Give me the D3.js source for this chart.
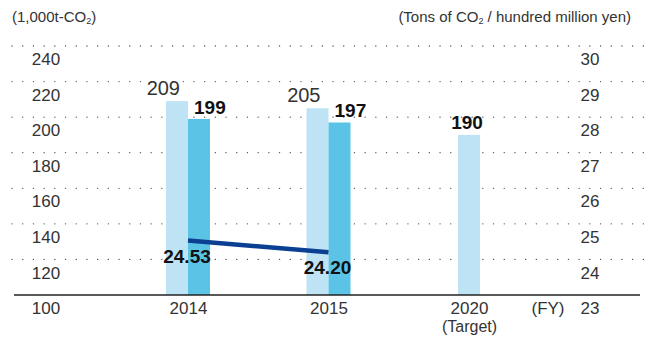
<!DOCTYPE html>
<html>
<head>
<meta charset="utf-8">
<script src="https://cdn.jsdelivr.net/npm/d3@7"></script>
<style>
  body { margin: 0; background: #fff; }
  svg { display: block; font-family: "Liberation Sans", Arial, Helvetica, sans-serif; }
</style>
</head>
<body>
<div id="chart"></div>
<script>
// data
const years = ["2014", "2015", "2020"];
const yearNotes = ["", "", "(Target)"];
const prevValues = [209, 205, 190];     // light bars (1,000t-CO2)
const currValues = [199, 197, null];    // dark bars
const intensity = [24.53, 24.20, null]; // line, right axis
const leftTicks = [100, 120, 140, 160, 180, 200, 220, 240];
const rightTicks = [23, 24, 25, 26, 27, 28, 29, 30];

const width = 646, height = 338;

const svg = d3.select("#chart")
    .append("svg")
    .attr("width", width)
    .attr("height", height);

// scales
const x = d3.scalePoint()
    .domain(years)
    .range([188, 469]);

const y = d3.scaleLinear()
    .domain([100, 240])
    .range([295, 46]);

const y2 = d3.scaleLinear()
    .domain([23, 30])
    .range([295, 46]);

const barW = 22;

// dotted grid lines
svg.append("g")
    .selectAll("line")
    .data(leftTicks.filter(d => d > 100))
    .enter()
    .append("line")
    .attr("x1", 12)
    .attr("x2", width)
    .attr("y1", d => y(d))
    .attr("y2", d => y(d))
    .attr("stroke", "#555")
    .attr("stroke-width", 1.3)
    .attr("stroke-linecap", "round")
    .attr("stroke-dasharray", "0.1,10.6");

// bars
const bars = svg.append("g");
years.forEach(function (yr, i) {
    const cx = x(yr);
    const hasCurr = currValues[i] != null;
    const lightX = hasCurr ? cx - barW : cx - barW / 2;
    bars.append("rect")
        .attr("x", lightX)
        .attr("y", y(prevValues[i]))
        .attr("width", barW)
        .attr("height", y(100) - y(prevValues[i]))
        .attr("fill", "#bde3f4");
    if (hasCurr) {
        bars.append("rect")
            .attr("x", cx)
            .attr("y", y(currValues[i]))
            .attr("width", barW)
            .attr("height", y(100) - y(currValues[i]))
            .attr("fill", "#5bc4e6");
    }
});

// bar labels
years.forEach(function (yr, i) {
    const cx = x(yr);
    const hasCurr = currValues[i] != null;
    svg.append("text")
        .attr("x", hasCurr ? cx - 8 : cx - 2)
        .attr("y", y(prevValues[i]) - 6)
        .attr("text-anchor", hasCurr ? "end" : "middle")
        .style("font-size", hasCurr ? "20px" : "19px")
        .style("font-weight", hasCurr ? "normal" : "bold")
        .attr("fill", hasCurr ? "#333" : "#111")
        .text(prevValues[i]);
    if (hasCurr) {
        svg.append("text")
            .attr("x", cx + 6)
            .attr("y", y(currValues[i]) - 5)
            .attr("text-anchor", "start")
            .style("font-size", "19px")
            .style("font-weight", "bold")
            .attr("fill", "#111")
            .text(currValues[i]);
    }
});

// baseline
svg.append("line")
    .attr("x1", 14)
    .attr("x2", 640)
    .attr("y1", y(100))
    .attr("y2", y(100))
    .attr("stroke", "#222")
    .attr("stroke-width", 1.5);

// intensity line
const linePts = years.map((yr, i) => ({yr: yr, v: intensity[i]})).filter(d => d.v != null);
svg.append("path")
    .datum(linePts)
    .attr("fill", "none")
    .attr("stroke", "#0b3f92")
    .attr("stroke-width", 4.5)
    .attr("d", d3.line()
        .x(d => x(d.yr))
        .y(d => y2(d.v)));

svg.append("g")
    .selectAll("text")
    .data(linePts)
    .enter()
    .append("text")
    .attr("x", d => x(d.yr) - 1)
    .attr("y", d => y2(d.v) + 22)
    .attr("text-anchor", "middle")
    .style("font-size", "19px")
    .style("font-weight", "bold")
    .attr("fill", "#111")
    .text(d => d.v.toFixed(2));

// left axis
const leftAxis = svg.append("g")
    .attr("transform", "translate(46,0)")
    .call(d3.axisLeft(y).tickValues(leftTicks).tickSize(0).tickPadding(0));
leftAxis.select(".domain").remove();
leftAxis.selectAll("text")
    .attr("text-anchor", "middle")
    .attr("dy", "1.1em")
    .style("font-size", "17px")
    .style("font-family", "'Liberation Sans', Arial, sans-serif")
    .attr("fill", "#333");

// right axis
const rightAxis = svg.append("g")
    .attr("transform", "translate(590,0)")
    .call(d3.axisRight(y2).tickValues(rightTicks).tickFormat(d3.format("d")).tickSize(0).tickPadding(0));
rightAxis.select(".domain").remove();
rightAxis.selectAll("text")
    .attr("text-anchor", "middle")
    .attr("dy", "1.1em")
    .style("font-size", "17px")
    .style("font-family", "'Liberation Sans', Arial, sans-serif")
    .attr("fill", "#333");

// x axis labels
const xAxis = svg.append("g")
    .attr("transform", "translate(0," + y(100) + ")")
    .call(d3.axisBottom(x).tickSize(0).tickPadding(0));
xAxis.select(".domain").remove();
xAxis.selectAll("text").remove();
xAxis.selectAll(".tick")
    .append("text")
    .attr("text-anchor", "middle")
    .attr("y", 19)
    .style("font-size", "17px")
    .attr("fill", "#333")
    .text(d => d);
xAxis.selectAll(".tick")
    .append("text")
    .attr("text-anchor", "middle")
    .attr("y", 37)
    .style("font-size", "16px")
    .attr("fill", "#333")
    .text((d, i) => yearNotes[i]);

svg.append("text")
    .attr("x", 548)
    .attr("y", y(100) + 19)
    .attr("text-anchor", "middle")
    .style("font-size", "17px")
    .attr("fill", "#333")
    .text("(FY)");

// axis titles
const t1 = svg.append("text")
    .attr("x", 12)
    .attr("y", 22)
    .style("font-size", "15px")
    .attr("fill", "#333");
t1.append("tspan").text("(1,000t-CO");
t1.append("tspan").style("font-size", "9px").attr("dy", 2).text("2");
t1.append("tspan").attr("dy", -2).text(")");

const t2 = svg.append("text")
    .attr("x", 631)
    .attr("y", 22)
    .attr("text-anchor", "end")
    .style("font-size", "15px")
    .attr("fill", "#333");
t2.append("tspan").text("(Tons of CO");
t2.append("tspan").style("font-size", "9px").attr("dy", 2).text("2");
t2.append("tspan").attr("dy", -2).text(" / hundred million yen)");
</script>
</body>
</html>
